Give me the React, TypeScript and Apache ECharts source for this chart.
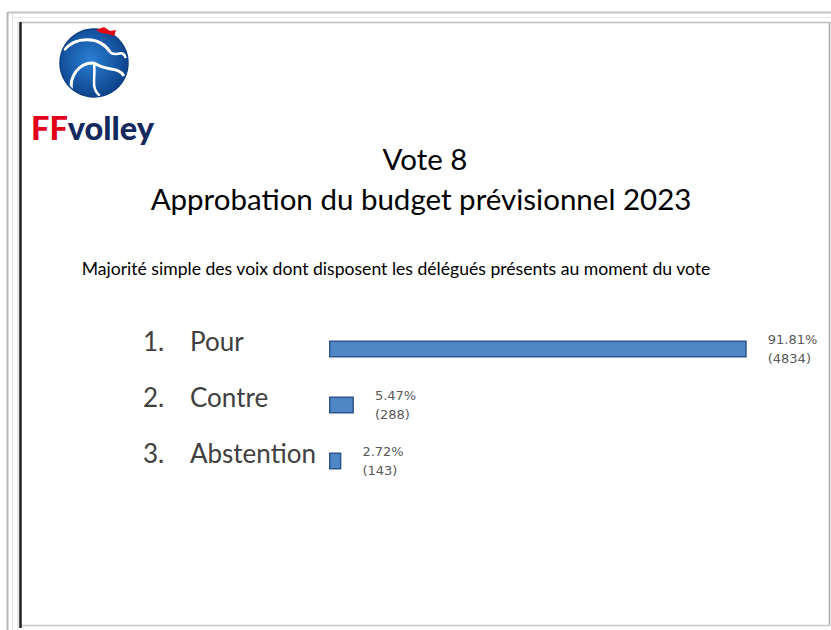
import React, { useEffect, useRef } from "react";
import * as echarts from "echarts";

const categories = ["Pour", "Contre", "Abstention"];
const numbers = ["1.", "2.", "3."];
const percents = [91.81, 5.47, 2.72];
const votes = [4834, 288, 143];

const titleLine1 = "Vote 8";
const titleLine2 = "Approbation du budget prévisionnel 2023";
const subtitle = "Majorité simple des voix dont disposent les délégués présents au moment du vote";

export default function App() {
  const ref = useRef<HTMLDivElement>(null);
  useEffect(() => {
    if (!ref.current) return;
    const chart = echarts.init(ref.current, null, { renderer: "svg" });
    const option: any = {
      animation: false,
      backgroundColor: "#ffffff",
      grid: { left: 329, top: 321, width: 455, height: 168, containLabel: false },
      xAxis: {
        type: "value",
        min: 0,
        max: 100,
        show: false,
      },
      yAxis: {
        type: "category",
        data: categories,
        inverse: true,
        axisLine: { show: false },
        axisTick: { show: false },
        axisLabel: {
          align: "left",
          margin: 186,
          padding: [0, 0, 17, 0],
          formatter: (v: string, i: number) => `{n|${numbers[i]}}{t|${v}}`,
          rich: {
            n: { width: 47, fontSize: 26, fontFamily: "Lato", color: "#404040" },
            t: { fontSize: 26, fontFamily: "Lato", color: "#404040" },
          },
        },
      },
      series: [
        {
          type: "bar",
          barWidth: 17,
          data: percents,
          itemStyle: { color: "#4f86c6", borderColor: "#2e558e", borderWidth: 1.5 },
          label: {
            show: true,
            position: "right",
            distance: 21,
            fontFamily: "DejaVu Sans",
            fontSize: 13,
            color: "#595959",
            lineHeight: 19,
            align: "left",
            formatter: (p: any) => `${percents[p.dataIndex].toFixed(2)}%\n(${votes[p.dataIndex]})`,
          },
        },
      ],
      graphic: [
        // outer frame
        { type: "line", shape: { x1: 8, y1: 12.5, x2: 831, y2: 12.5 }, style: { stroke: "#c4c4c4", lineWidth: 2 } },
        { type: "line", shape: { x1: 7.5, y1: 12, x2: 7.5, y2: 630 }, style: { stroke: "#b8b8b8", lineWidth: 2 } },
        { type: "line", shape: { x1: 12.5, y1: 14, x2: 12.5, y2: 630 }, style: { stroke: "#e0e0e0", lineWidth: 1 } },
        { type: "line", shape: { x1: 12, y1: 17.5, x2: 831, y2: 17.5 }, style: { stroke: "#e6e6e6", lineWidth: 1 } },
        // inner frame
        { type: "line", shape: { x1: 20, y1: 22.5, x2: 830, y2: 22.5 }, style: { stroke: "#bdbdbd", lineWidth: 1.5 } },
        { type: "line", shape: { x1: 829.5, y1: 22, x2: 829.5, y2: 626 }, style: { stroke: "#a8a8a8", lineWidth: 1.5 } },
        { type: "line", shape: { x1: 20, y1: 625.5, x2: 830, y2: 625.5 }, style: { stroke: "#c8c8c8", lineWidth: 1.5 } },
        { type: "line", shape: { x1: 20.5, y1: 22, x2: 20.5, y2: 628 }, style: { stroke: "#222222", lineWidth: 2.5 } },
        { type: "line", shape: { x1: 18, y1: 22, x2: 18, y2: 628 }, style: { stroke: "#d0d0d0", lineWidth: 1 } },
        // logo: ball
        {
          type: "circle",
          shape: { cx: 94, cy: 63, r: 34 },
          style: {
            fill: new echarts.graphic.RadialGradient(0.45, 0.45, 0.6, [
              { offset: 0, color: "#2a7fd4" },
              { offset: 1, color: "#0c3f86" },
            ]),
          },
        },
        { type: "bezierCurve", shape: { x1: 64, y1: 50, x2: 110, y2: 52, cpx1: 76, cpy1: 36, cpx2: 100, cpy2: 36 }, style: { stroke: "#ffffff", lineWidth: 3, fill: null } },
        { type: "bezierCurve", shape: { x1: 94, y1: 63, x2: 72, y2: 92, cpx1: 80, cpy1: 62, cpx2: 68, cpy2: 76 }, style: { stroke: "#ffffff", lineWidth: 3, fill: null } },
        { type: "bezierCurve", shape: { x1: 94, y1: 63, x2: 124, y2: 76, cpx1: 108, cpy1: 72, cpx2: 118, cpy2: 66 }, style: { stroke: "#ffffff", lineWidth: 3, fill: null } },
        { type: "bezierCurve", shape: { x1: 94, y1: 63, x2: 100, y2: 96, cpx1: 96, cpy1: 78, cpx2: 90, cpy2: 88 }, style: { stroke: "#ffffff", lineWidth: 2.5, fill: null } },
        { type: "bezierCurve", shape: { x1: 110, y1: 52, x2: 126, y2: 58, cpx1: 116, cpy1: 58, cpx2: 122, cpy2: 48 }, style: { stroke: "#ffffff", lineWidth: 2.5, fill: null } },
        { type: "circle", shape: { cx: 94, cy: 63, r: 34 }, style: { fill: null, stroke: "#0c3f86", lineWidth: 1.5 } },
        // red crest
        { type: "polygon", shape: { points: [[96, 30], [104, 27], [110, 31], [116, 30], [114, 36], [108, 34], [101, 33]] }, style: { fill: "#e30613" } },
        // FFvolley text
        {
          type: "text",
          x: 31,
          y: 127,
          style: {
            text: "{f|FF}{v|volley}",
            verticalAlign: "middle",
            rich: {
              f: { fontFamily: "Lato", fontWeight: 900, fontSize: 32.5, fill: "#e2001a" },
              v: { fontFamily: "Lato", fontWeight: 900, fontSize: 32.5, fill: "#14295e" },
            },
          },
        },
        // titles
        {
          type: "text",
          x: 425,
          y: 158,
          style: { text: titleLine1, fontFamily: "Lato", fontSize: 29.5, fill: "#000000", align: "center", verticalAlign: "middle" },
        },
        {
          type: "text",
          x: 421,
          y: 198,
          style: { text: titleLine2, fontFamily: "Lato", fontSize: 29.5, fill: "#000000", align: "center", verticalAlign: "middle" },
        },
        {
          type: "text",
          x: 396,
          y: 268,
          style: { text: subtitle, fontFamily: "Lato", fontSize: 17.6, fill: "#000000", align: "center", verticalAlign: "middle" },
        },
      ],
    };
    chart.setOption(option);
    return () => chart.dispose();
  }, []);
  return (
    <div
      ref={ref}
      style={{ position: "fixed", left: 0, top: 0, width: 831, height: 630 }}
    />
  );
}
